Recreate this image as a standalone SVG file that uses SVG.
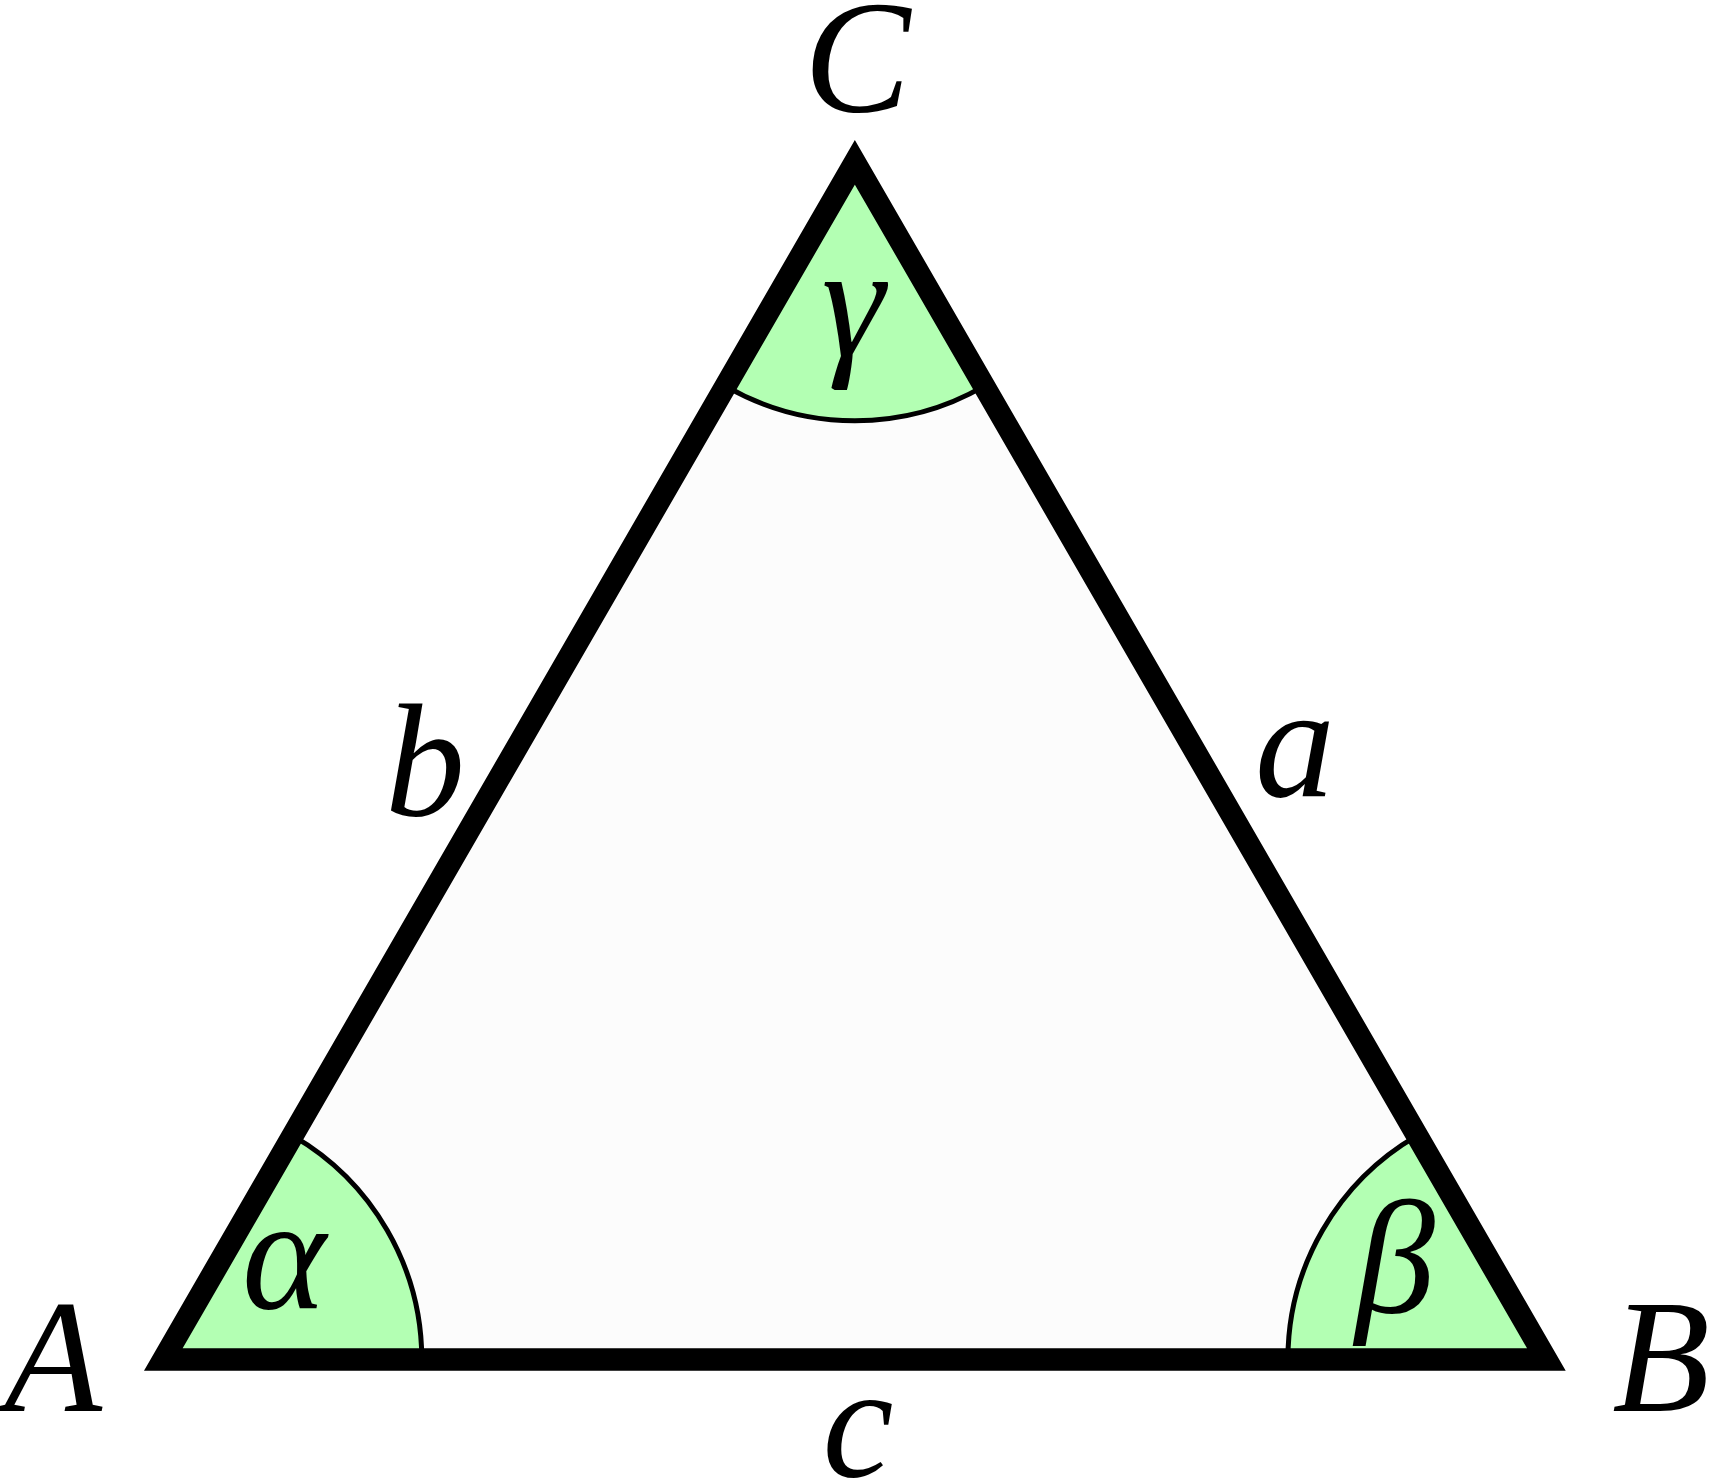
<svg xmlns="http://www.w3.org/2000/svg" width="1715" height="1481" viewBox="0 0 1715 1481">
  <style>
    .lbl { font-family: "Liberation Serif", "Times New Roman", serif; font-style: italic; font-size: 160px; fill: #000; text-anchor: middle; }
    .wedge { fill: #b3ffb3; stroke: none; }
    .arc { fill: none; stroke: #000; stroke-width: 5; }
    .tri { stroke: #000; stroke-width: 22.3; stroke-linejoin: miter; stroke-miterlimit: 10; }
  </style>
  <rect x="0" y="0" width="1715" height="1481" fill="#ffffff"/>
  <g id="triangle-fill">
    <polygon points="163.3,1359.5 1546.4,1359.5 854.85,162.3" fill="#fcfcfc"/>
  </g>
  <g id="angle-alpha">
    <path class="wedge" d="M163.3,1359.5 L421.8,1359.5 A258.5,258.5 0 0 0 292.55,1135.63 Z"/>
    <path class="arc" d="M421.8,1359.5 A258.5,258.5 0 0 0 292.55,1135.63"/>
    <text class="lbl" x="284" y="1308">α</text>
  </g>
  <g id="angle-beta">
    <path class="wedge" d="M1546.4,1359.5 L1287.9,1359.5 A258.5,258.5 0 0 1 1417.15,1135.63 Z"/>
    <path class="arc" d="M1287.9,1359.5 A258.5,258.5 0 0 1 1417.15,1135.63"/>
    <text class="lbl" x="1395" y="1312">β</text>
  </g>
  <g id="angle-gamma">
    <path class="wedge" d="M854.85,162.3 L725.6,386.17 A258.5,258.5 0 0 0 984.1,386.17 Z"/>
    <path class="arc" d="M725.6,386.17 A258.5,258.5 0 0 0 984.1,386.17"/>
    <text class="lbl" x="853" y="356">γ</text>
  </g>
  <g id="triangle-edges">
    <polygon class="tri" points="163.3,1359.5 1546.4,1359.5 854.85,162.3" fill="none"/>
  </g>
  <g id="vertex-A"><text class="lbl" x="53" y="1411">A</text></g>
  <g id="vertex-B"><text class="lbl" x="1661" y="1411">B</text></g>
  <g id="vertex-C"><text class="lbl" x="857" y="112">C</text></g>
  <g id="side-a"><text class="lbl" x="1295" y="796">a</text></g>
  <g id="side-b"><text class="lbl" x="425" y="815">b</text></g>
  <g id="side-c"><text class="lbl" x="858" y="1476">c</text></g>
</svg>
